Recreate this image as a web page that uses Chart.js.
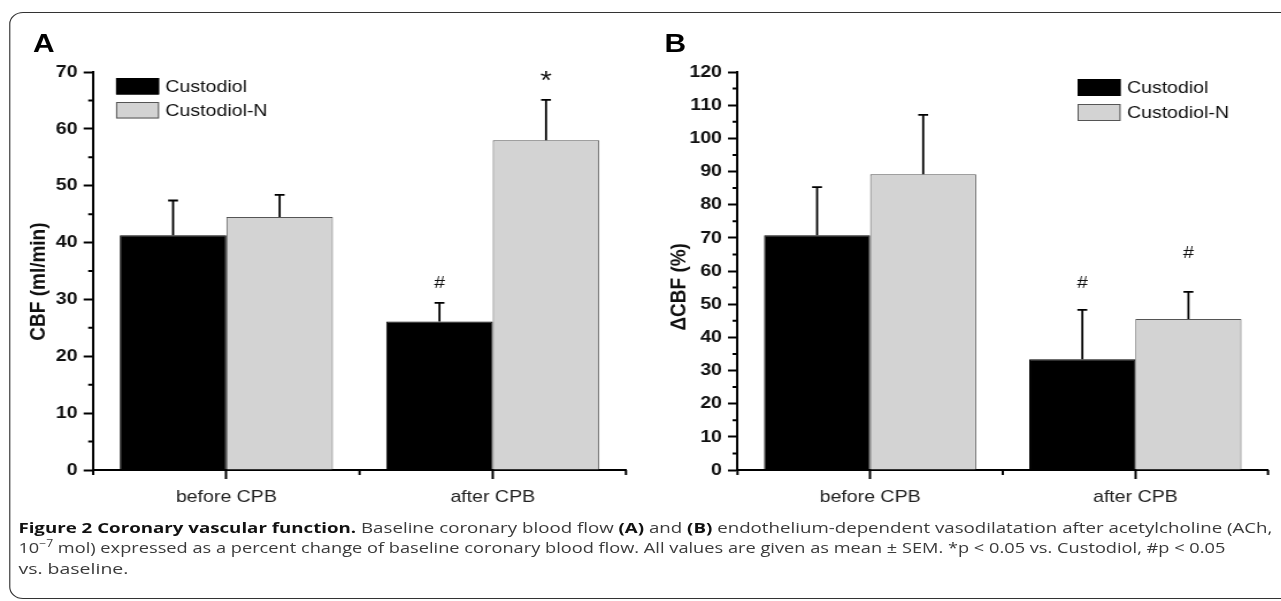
<!DOCTYPE html>
<html>
<head>
<meta charset="utf-8">
<script src="https://cdn.jsdelivr.net/npm/chart.js@4.4.1/dist/chart.umd.min.js"></script>
<style>
  html, body { margin: 0; padding: 0; background: #fff; width: 1281px; height: 601px; overflow: hidden; }
  /* the reference figure is a bit wider than tall, so the whole page is stretched sideways */
  #page { position: absolute; left: 0; top: 0; width: 1114px; height: 601px; transform: scaleX(1.15); transform-origin: 0 0; }
  #frame { position: absolute; left: 8px; top: 12px; width: 1200px; height: 585px; border: 1.5px solid #333; border-radius: 12px; }
  .panel { position: absolute; top: 0; width: 557px; height: 510px; }
  #panelA { left: 0; }
  #panelB { left: 556.5px; }
  .tag { position: absolute; top: 30px; font: bold 26px/26px "Liberation Sans", Arial, sans-serif; color: #000; }
  #tagA { left: 28.7px; }
  #tagB { left: 577.8px; }
  #caption { position: absolute; left: 15.7px; top: 518px; font: 15px/19.5px "Open Sans", sans-serif; color: #3a3a3a; white-space: nowrap; }
  #caption .line { display: block; width: max-content; transform-origin: 0 50%; }
  #caption b { color: #111; }
  #caption sup { font-size: 10px; vertical-align: 0; position: relative; top: -6px; }
</style>
</head>
<body>
<div id="page">
  <div id="frame"></div>
  <div class="tag" id="tagA">A</div>
  <div class="tag" id="tagB">B</div>
  <div class="panel" id="panelA"><canvas id="chart-a"></canvas></div>
  <div class="panel" id="panelB"><canvas id="chart-b"></canvas></div>
  <div id="caption">
    <span class="line" data-w="1254"><b>Figure 2 Coronary vascular function.</b> Baseline coronary blood flow <b>(A)</b> and <b>(B)</b> endothelium-dependent vasodilatation after acetylcholine (ACh,</span>
    <span class="line" data-w="1207">10<sup>&minus;7</sup> mol) expressed as a percent change of baseline coronary blood flow. All values are given as mean &plusmn; SEM. *p &lt; 0.05 vs. Custodiol, #p &lt; 0.05</span>
    <span class="line" data-w="110">vs. baseline.</span>
  </div>
</div>

<script>
(function () {
  'use strict';

  // --- data ---
  const categories = ['before CPB', 'after CPB'];
  const seriesNames = ['Custodiol', 'Custodiol-N'];

  // panel A: baseline coronary blood flow (ml/min), mean and SEM
  const cbfCustodiol = [41.3, 26.1];
  const cbfCustodiolSem = [6.1, 3.3];
  const cbfCustodiolN = [44.5, 58.0];
  const cbfCustodiolNSem = [3.9, 7.1];
  const cbfMarksCustodiol = ['', '#'];
  const cbfMarksCustodiolN = ['', '*'];
  const cbfMarkAtCustodiol = [null, 33.1];
  const cbfMarkAtCustodiolN = [null, 69.3];

  // panel B: change of CBF after ACh (%), mean and SEM
  const dcbfCustodiol = [70.8, 33.4];
  const dcbfCustodiolSem = [14.5, 14.9];
  const dcbfCustodiolN = [89.2, 45.5];
  const dcbfCustodiolNSem = [17.9, 8.2];
  const dcbfMarksCustodiol = ['', '#'];
  const dcbfMarksCustodiolN = ['', '#'];
  const dcbfMarkAtCustodiol = [null, 56.8];
  const dcbfMarkAtCustodiolN = [null, 65.7];

  // --- look ---
  const FONT = '"Liberation Sans", Arial, sans-serif';
  const FILLS = ['#000000', '#d3d3d3'];
  const EDGES = ['#000000', '#555555'];

  // caption lines are fitted to the widths they have in the figure
  document.querySelectorAll('#caption .line').forEach(el => {
    const w = el.getBoundingClientRect().width;
    el.style.transform = 'scaleX(' + (Number(el.dataset.w) / w) + ')';
  });

  /**
   * Error bars, significance marks, minor ticks and the in-plot legend.
   */
  function makeExtras(cfg) {
    return {
      id: 'extras',
      afterDatasetsDraw(chart) {
        const ctx = chart.ctx;
        const y = chart.scales.y;
        ctx.save();
        ctx.strokeStyle = '#000';
        ctx.lineWidth = 1.8;
        chart.data.datasets.forEach((ds, i) => {
          chart.getDatasetMeta(i).data.forEach((bar, j) => {
            const top = y.getPixelForValue(ds.data[j] + cfg.sem[i][j]);
            ctx.beginPath();
            ctx.moveTo(bar.x, bar.y);
            ctx.lineTo(bar.x, top);
            ctx.moveTo(bar.x - 4.3, top);
            ctx.lineTo(bar.x + 4.3, top);
            ctx.stroke();

            const mark = cfg.marks[i][j];
            if (mark) {
              ctx.fillStyle = '#111';
              ctx.font = (mark === '*' ? '26px ' : '17px ') + FONT;
              ctx.textAlign = 'center';
              ctx.textBaseline = 'alphabetic';
              const m = ctx.measureText(mark);
              const yc = y.getPixelForValue(cfg.markAt[i][j]);
              ctx.fillText(mark, bar.x, yc + (m.actualBoundingBoxAscent - m.actualBoundingBoxDescent) / 2);
            }
          });
        });
        ctx.restore();
      },
      afterDraw(chart) {
        const ctx = chart.ctx;
        const {x, y} = chart.scales;
        const area = chart.chartArea;
        ctx.save();
        ctx.strokeStyle = '#000';
        ctx.lineWidth = 2;
        ctx.beginPath();
        // minor y ticks halfway between labelled ones
        for (let v = y.min + 5; v < y.max; v += 10) {
          const py = y.getPixelForValue(v);
          ctx.moveTo(area.left - 4.3, py);
          ctx.lineTo(area.left, py);
        }
        // minor x ticks at category boundaries
        const p0 = x.getPixelForValue(0);
        const p1 = x.getPixelForValue(1);
        [area.left, (p0 + p1) / 2, area.right].forEach(px => {
          ctx.moveTo(px, area.bottom);
          ctx.lineTo(px, area.bottom + 5);
        });
        ctx.stroke();

        // legend
        const L = cfg.legend;
        ctx.font = '17px ' + FONT;
        ctx.textAlign = 'left';
        ctx.textBaseline = 'middle';
        seriesNames.forEach((name, i) => {
          const top = L.y + i * L.gap;
          ctx.fillStyle = FILLS[i];
          ctx.fillRect(L.x, top, L.w, L.h);
          ctx.strokeStyle = EDGES[i];
          ctx.lineWidth = 1;
          ctx.strokeRect(L.x + 0.5, top + 0.5, L.w - 1, L.h - 1);
          ctx.fillStyle = '#111';
          ctx.fillText(name, L.x + L.w + 5.5, top + L.h / 2 + 1);
        });
        ctx.restore();
      },
    };
  }

  function createPanel(canvasId, series, opts) {
    const ctx = document.getElementById(canvasId).getContext('2d');
    return new Chart(ctx, {
      type: 'bar',
      data: {
        labels: categories,
        datasets: series.map((data, i) => ({
          label: seriesNames[i],
          data: data,
          backgroundColor: FILLS[i],
          borderColor: EDGES[i],
          borderWidth: 1,
          borderSkipped: 'bottom',
          categoryPercentage: 0.8,
          barPercentage: 1.0,
        })),
      },
      options: {
        responsive: true,
        maintainAspectRatio: false,
        animation: false,
        layout: { padding: { top: 72, right: opts.padRight, bottom: 0, left: 0 } },
        plugins: {
          legend: { display: false },
          tooltip: { enabled: false },
        },
        scales: {
          x: {
            offset: true,
            grid: { offset: false, drawOnChartArea: false, tickLength: 9, tickWidth: 2, tickColor: '#000' },
            border: { color: '#000', width: 2 },
            ticks: { color: '#222', font: { family: FONT, size: 17 }, padding: 8 },
            afterFit: s => { s.height = 40; },
          },
          y: {
            min: 0,
            max: opts.max,
            grid: { drawOnChartArea: false, tickLength: 8.3, tickWidth: 2, tickColor: '#000' },
            border: { color: '#000', width: 2 },
            ticks: { stepSize: 10, color: '#111', font: { family: FONT, size: 17, weight: 'bold' }, padding: 5.2 },
            title: {
              display: true,
              // trailing spaces nudge the rotated title down, as in the figure
              text: opts.title,
              color: '#111',
              font: { family: FONT, size: 19, weight: 'bold' },
              padding: { top: 22, bottom: 0 },
            },
            afterFit: s => { s.width = opts.axisWidth; },
          },
        },
      },
      plugins: [makeExtras(opts.extras)],
    });
  }

  createPanel('chart-a', [cbfCustodiol, cbfCustodiolN], {
    max: 70,
    title: 'CBF (ml/min)    ',
    axisWidth: 81,
    padRight: 12.7,
    extras: {
      sem: [cbfCustodiolSem, cbfCustodiolNSem],
      marks: [cbfMarksCustodiol, cbfMarksCustodiolN],
      markAt: [cbfMarkAtCustodiol, cbfMarkAtCustodiolN],
      legend: { x: 100.9, y: 78, w: 37.4, h: 16.5, gap: 24 },
    },
  });

  createPanel('chart-b', [dcbfCustodiol, dcbfCustodiolN], {
    max: 120,
    title: '\u0394CBF (%)      ',
    axisWidth: 84.3,
    padRight: 11.4,
    extras: {
      sem: [dcbfCustodiolSem, dcbfCustodiolNSem],
      marks: [dcbfMarksCustodiol, dcbfMarksCustodiolN],
      markAt: [dcbfMarkAtCustodiol, dcbfMarkAtCustodiolN],
      legend: { x: 380, y: 79, w: 37.4, h: 17, gap: 25 },
    },
  });
})();
</script>
</body>
</html>
